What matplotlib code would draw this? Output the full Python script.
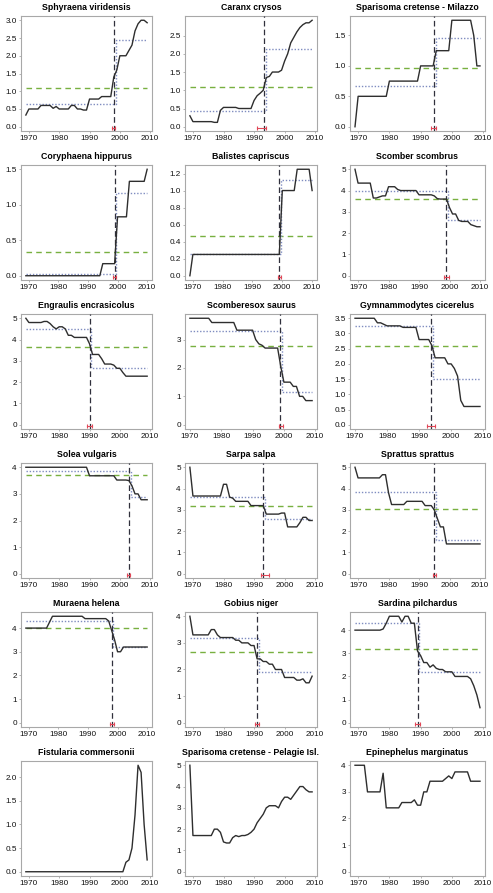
import matplotlib
matplotlib.use("Agg")
import matplotlib.pyplot as plt
import numpy as np

plt.rcParams['font.family'] = ['Liberation Sans', 'DejaVu Sans']

# ---------------- data ----------------
titles = ["Sphyraena viridensis", "Caranx crysos", "Sparisoma cretense - Milazzo",
          "Coryphaena hippurus", "Balistes capriscus", "Scomber scombrus",
          "Engraulis encrasicolus", "Scomberesox saurus", "Gymnammodytes cicerelus",
          "Solea vulgaris", "Sarpa salpa", "Sprattus sprattus",
          "Muraena helena", "Gobius niger", "Sardina pilchardus",
          "Fistularia commersonii", "Sparisoma cretense - Pelagie Isl.", "Epinephelus marginatus"]

start_years = [1969, 1969, 1969, 1969, 1969, 1969, 1969, 1970, 1970,
               1969, 1969, 1969, 1969, 1969, 1969, 1969, 1969, 1969]

sphyraena = [0.33, 0.5, 0.5, 0.5, 0.5, 0.6, 0.6, 0.6, 0.6, 0.52, 0.57, 0.5, 0.5, 0.5, 0.5, 0.6, 0.6,
             0.5, 0.5, 0.47, 0.47, 0.78, 0.78, 0.78, 0.78, 0.85, 0.85, 0.85, 0.85, 1.4, 1.6, 2.0,
             2.0, 2.0, 2.15, 2.3, 2.7, 2.9, 3.0, 3.0, 2.93]
caranx = [0.3, 0.14, 0.14, 0.14, 0.14, 0.14, 0.14, 0.14, 0.12, 0.12, 0.45, 0.53, 0.53, 0.53, 0.53,
          0.53, 0.5, 0.5, 0.5, 0.5, 0.5, 0.72, 0.85, 0.92, 1.0, 1.35, 1.38, 1.5, 1.5, 1.5, 1.55,
          1.8, 2.0, 2.3, 2.45, 2.6, 2.72, 2.8, 2.85, 2.85, 2.92]
sparisoma_milazzo = [0.0] + [0.5] * 10 + [0.75] * 10 + [1.0] * 5 + [1.25] * 5 + [1.75] * 7 + [1.5, 1.0, 1.0]
coryphaena = [0.0] * 26 + [0.17] * 5 + [0.83] * 4 + [1.33] * 6 + [1.5]
balistes = [0.0] + [0.25] * 30 + [1.0] * 5 + [1.25] * 5 + [1.0]
scomber = [5.0, 4.35, 4.35, 4.35, 4.35, 4.35, 3.65, 3.65, 3.7, 3.75, 3.75, 4.18, 4.18, 4.18, 4.05,
           4.0, 4.0, 4.0, 4.0, 4.0, 4.0, 3.8, 3.8, 3.8, 3.8, 3.8, 3.75, 3.62, 3.6, 3.6, 3.6,
           3.2, 2.9, 2.9, 2.6, 2.55, 2.55, 2.55, 2.4, 2.35, 2.3, 2.3]
engraulis = [5.0, 4.8, 4.8, 4.8, 4.8, 4.8, 4.85, 4.85, 4.75, 4.6, 4.5, 4.6, 4.6, 4.5, 4.2, 4.2,
             4.1, 4.1, 4.1, 4.1, 4.1, 3.8, 3.3, 3.3, 3.3, 3.1, 2.85, 2.85, 2.85, 2.8, 2.65, 2.65,
             2.45, 2.28, 2.28, 2.28, 2.28, 2.28, 2.28, 2.28, 2.28]
scomberesox = [3.75] * 7 + [3.6] * 8 + [3.33] * 6 + [3.0, 2.85, 2.8] + [2.7] * 5 + \
              [2.05, 1.5, 1.5, 1.5, 1.35, 1.35, 1.0, 1.0, 0.85, 0.85, 0.85]
gymnammodytes = [3.5] * 7 + [3.35, 3.35, 3.3] + [3.25] * 5 + [3.2] * 5 + [2.8] * 4 + [2.6] + \
                [2.2] * 4 + [2.0, 2.0, 1.85, 1.6, 0.8] + [0.6] * 6
solea = [4.0] * 21 + [3.68] * 9 + [3.52] * 4 + [3.5, 3.3, 3.0, 3.0, 2.78, 2.78, 2.78]
sarpa = [5.0] + [3.65] * 10 + [4.2, 4.2, 3.6, 3.55] + [3.4] * 5 + [3.2] * 5 + [2.8] * 5 + \
        [2.85, 2.85] + [2.2] * 4 + [2.4, 2.65, 2.65, 2.5, 2.5]
sprattus = [5.0] + [4.5] * 8 + [4.65, 4.65, 3.8] + [3.25] * 5 + [3.4] * 6 + [3.2] * 3 + \
           [3.0, 2.6, 2.2, 2.2] + [1.4] * 12
muraena = [4.0] * 8 + [4.25] + [4.5] * 11 + [4.4] * 8 + [4.3, 3.9, 3.5, 3.0, 3.0] + [3.2] * 9
gobius = [4.0] + [3.3] * 6 + [3.5, 3.5, 3.3] + [3.2] * 5 + [3.1, 3.1, 3.0, 3.0, 3.0, 2.9, 2.9,
          2.4, 2.4, 2.3, 2.3, 2.2, 2.2, 2.0, 2.0, 2.0, 1.7, 1.7, 1.7, 1.7, 1.6, 1.6, 1.65, 1.5,
          1.5, 1.75]
sardina = [4.0] * 9 + [4.05, 4.3, 4.6, 4.6, 4.6, 4.6, 4.35, 4.6, 4.6, 4.3, 4.3, 3.1, 2.9, 2.6,
           2.6, 2.4, 2.5, 2.35, 2.3, 2.3, 2.2, 2.2, 2.2, 2.0, 2.0, 2.0, 2.0, 2.0, 1.9, 1.6, 1.2, 0.65]
fistularia = [0.0] * 33 + [0.2, 0.25, 0.5, 1.2, 2.25, 2.1, 1.0, 0.25]
sparisoma_pelagie = [5.0] + [1.7] * 7 + [2.0, 2.0, 1.85, 1.4, 1.35, 1.35, 1.6, 1.7, 1.65, 1.7,
                     1.7, 1.75, 1.85, 2.0, 2.3, 2.5, 2.7, 3.0, 3.1, 3.1, 3.1, 3.0, 3.3, 3.5, 3.5,
                     3.4, 3.6, 3.8, 4.0, 4.0, 3.85, 3.75, 3.75]
epinephelus = [4.0] * 4 + [3.0] * 5 + [3.7] + [2.4] * 5 + [2.6] * 4 + [2.7, 2.5, 2.5, 3.0, 3.0] + \
              [3.4] * 5 + [3.5, 3.6, 3.5] + [3.75] * 5 + [3.4] * 4

series = [sphyraena, caranx, sparisoma_milazzo, coryphaena, balistes, scomber,
          engraulis, scomberesox, gymnammodytes, solea, sarpa, sprattus,
          muraena, gobius, sardina, fistularia, sparisoma_pelagie, epinephelus]

overall_means = [1.1, 1.08, 0.96, 0.33, 0.47, 3.6, 3.63, 2.78, 2.58, 3.7, 3.2, 3.05,
                 4.0, 2.65, 3.2]
break_years = [1998.2, 1993.3, 1994.2, 1999.0, 1999.0, 1999.0, 1990.0, 1998.8, 1993.8,
               2003.0, 1993.0, 1995.0, 1998.0, 1991.0, 1989.0]
before_means = [0.63, 0.42, 0.67, 0.03, 0.25, 4.0, 4.5, 3.3, 3.25, 3.85, 3.6, 3.82, 4.3, 3.2, 4.3]
after_means = [2.43, 2.13, 1.46, 1.17, 1.12, 2.6, 2.65, 1.17, 1.5, 2.9, 2.55, 1.6, 3.2, 1.9, 2.2]
ci_low = [1997.5, 1991.0, 1993.3, 1998.3, 1998.5, 1998.3, 1989.2, 1998.3, 1992.5,
          2002.5, 1992.3, 1994.5, 1997.3, 1990.3, 1988.3]
ci_high = [1998.5, 1994.0, 1995.0, 1999.5, 1999.5, 1999.7, 1990.8, 1999.7, 1995.0,
           2003.5, 1995.0, 1995.5, 1998.7, 1991.7, 1989.7]

ytick_steps = [0.5, 0.5, 0.5, 0.5, 0.2, 1, 1, 1, 0.5, 1, 1, 1, 1, 1, 1, 0.5, 1, 1]
xticks = [1970, 1980, 1990, 2000, 2010]

# ---------------- layout ----------------
W, H = 493, 893
fig = plt.figure(figsize=(W / 100, H / 100), dpi=100)

col_left = [21, 185, 350]
col_width = [131, 132, 135]
row_top0 = 16
row_pitch = 149
ax_h = 115

line_col = '#2e2e2e'
green = '#78b040'
dot_col = '#7f8cc0'
vline_col = '#30303c'
red = '#e04858'

for i, (title, vals) in enumerate(zip(titles, series)):
    r, c = divmod(i, 3)
    left = col_left[c]
    top = row_top0 + row_pitch * r
    ax = fig.add_axes([left / W, 1 - (top + ax_h) / H, col_width[c] / W, ax_h / H])
    yrs = np.arange(start_years[i], start_years[i] + len(vals))
    x0, x1 = yrs[0], yrs[-1]
    ymax = max(vals)
    ax.set_xlim(x0 - 0.04 * (x1 - x0), x1 + 0.04 * (x1 - x0))
    ax.set_ylim(-0.04 * ymax, 1.04 * ymax)

    if i < len(break_years):
        b = break_years[i]
        step = b + 0.6
        ax.plot([x0, x1], [overall_means[i]] * 2, color=green, lw=1.0,
                dashes=(4, 3), zorder=2)
        ax.plot([x0, step, step, x1],
                [before_means[i], before_means[i], after_means[i], after_means[i]],
                color=dot_col, lw=1.0, ls=(0, (1, 1.3)), zorder=2)
        ax.axvline(b, color=vline_col, lw=0.9, dashes=(4.5, 2.5), zorder=3)
        yci = -0.015 * ymax
        ax.plot([ci_low[i], ci_high[i]], [yci, yci], color=red, lw=0.8, zorder=4)
        ax.plot([ci_low[i], ci_high[i]], [yci, yci], color=red, lw=0, marker='|',
                ms=2.5, mew=0.8, zorder=4)

    ax.plot(yrs, vals, color=line_col, lw=1.0, zorder=5)

    step_y = ytick_steps[i]
    ticks = np.arange(0, ymax + 1e-9, step_y)
    ax.set_yticks(ticks)
    if step_y < 1:
        ax.set_yticklabels([f"{v:.1f}" for v in ticks])
    else:
        ax.set_yticklabels([f"{int(v)}" for v in ticks])
    ax.set_xticks(xticks)
    ax.tick_params(axis='both', labelsize=5.9, length=1.5, width=0.5, color='#999999',
                   pad=1.5, labelcolor='#111111')
    for s in ax.spines.values():
        s.set_color('#a8a8a8')
        s.set_linewidth(0.8)
    ax.set_title(title, fontsize=6.3, fontweight='bold', pad=4.5)

fig.savefig("out.png", dpi=100)
